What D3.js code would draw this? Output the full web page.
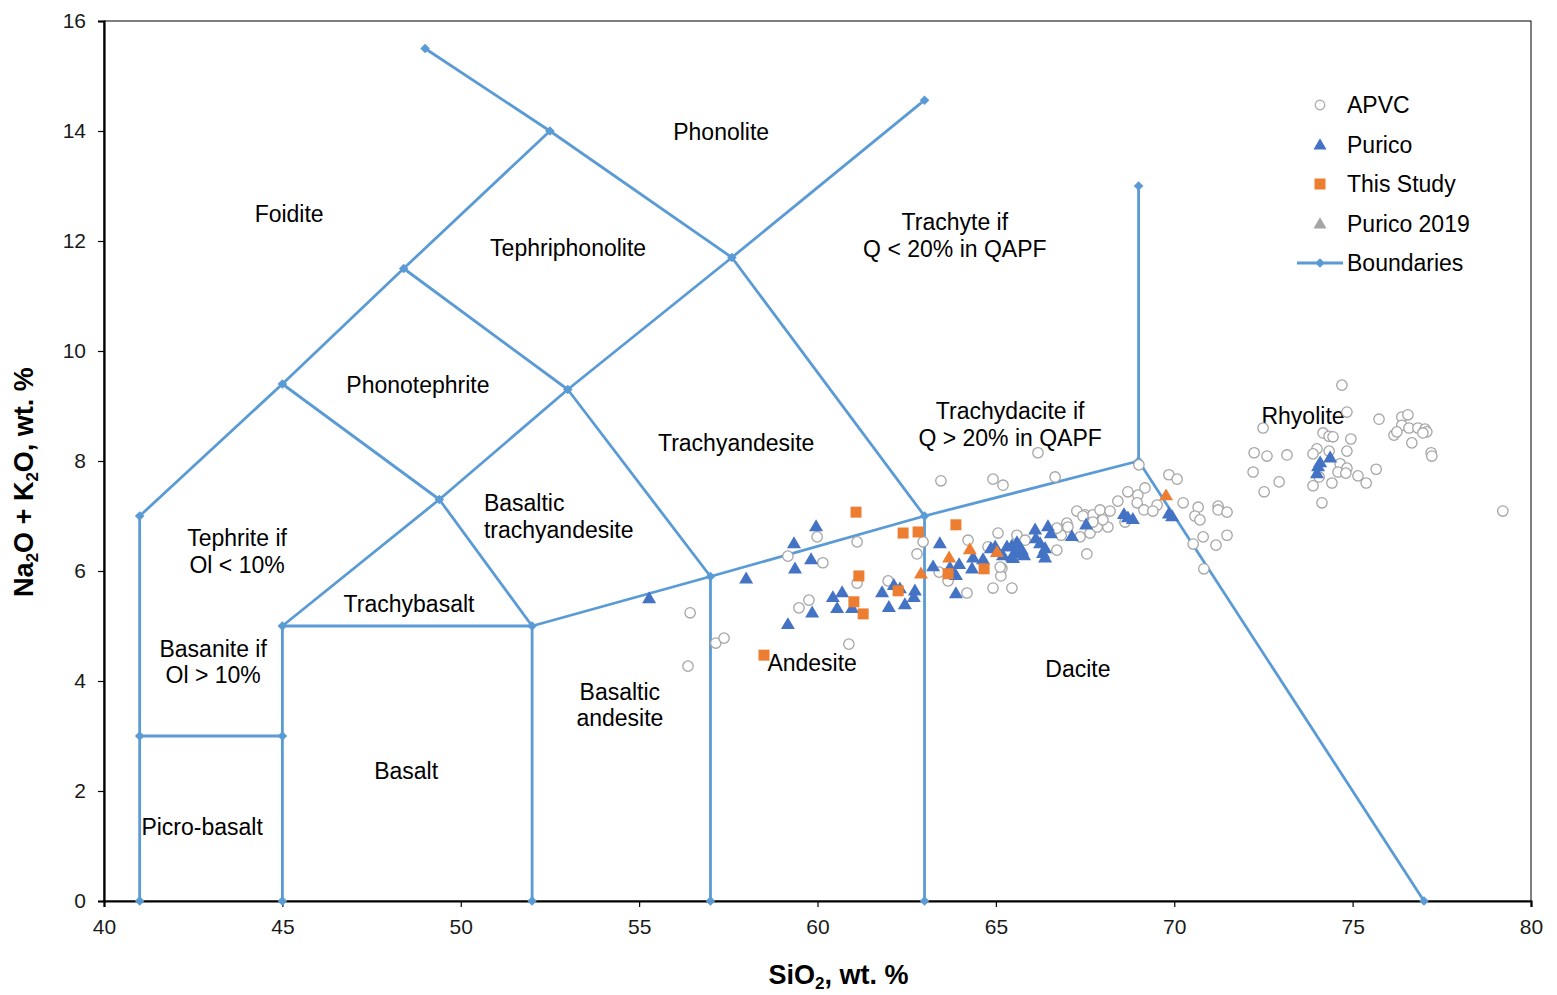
<!DOCTYPE html>
<html><head><meta charset="utf-8">
<script src="https://cdn.jsdelivr.net/npm/d3@7"></script>
<style>
html,body{margin:0;padding:0;background:#fff;}
svg{display:block;font-family:"Liberation Sans",Arial,sans-serif;}
</style></head>
<body><svg id="chart" width="1557" height="995"></svg>
<script>
// ---------- DATA ----------
const xTicks = [40,45,50,55,60,65,70,75,80];
const yTicks = [0,2,4,6,8,10,12,14,16];

// Boundary polylines [SiO2, Na2O+K2O]
const boundaries = [
  [[41,0],[41,3],[41,7]],
  [[41,3],[45,3]],
  [[45,0],[45,3],[45,5]],
  [[45,5],[52,5]],
  [[41,7],[45,9.4],[48.4,11.5],[52.5,14]],
  [[49,15.5],[52.5,14],[57.6,11.7],[63,7]],
  [[45,9.4],[49.4,7.3],[52,5],[52,0]],
  [[48.4,11.5],[53,9.3],[57,5.9],[57,0]],
  [[45,5],[49.4,7.3],[53,9.3],[57.6,11.7],[63,14.56]],
  [[52,5],[57,5.9],[63,7],[69,8],[77,0]],
  [[69,8],[69,13]],
  [[63,7],[63,0]]
];

const apvcX = [56.43,56.37,57.15,57.38,59.17,59.99,60.15,59.76,59.48,60.88,61.11,61.11,61.98,62.96,62.79,63.41,63.66,
 63.46,64.92,65.20,66.66,66.18,69.01,65.06,64.22,65.59,65.17,65.14,64.92,65.45,64.19,66.71,67.55,67.27,67.50,67.72,
 66.99,67.64,67.36,67.92,68.20,65.82,64.78,65.12,69.85,70.08,70.25,70.53,69.18,68.70,68.42,68.98,68.96,69.15,69.52,
 69.40,67.44,67.84,68.14,66.83,67.02,66.71,68.00,68.62,67.72,70.67,70.58,70.72,71.23,71.23,71.48,70.81,71.17,71.48,
 70.83,74.70,74.84,72.49,75.74,74.17,74.34,74.45,74.95,72.24,72.60,73.16,74.00,73.89,74.34,74.84,72.21,72.94,72.52,
 73.89,74.14,74.42,74.65,74.59,74.84,74.81,75.15,75.38,75.66,74.06,76.38,76.55,76.16,76.38,76.58,76.83,77.03,77.08,
 76.97,76.66,77.20,77.22,79.21,76.24];
const apvcY = [5.24,4.27,4.69,4.78,6.27,6.62,6.15,5.47,5.33,4.67,6.53,5.78,5.82,6.53,6.31,5.98,5.82,
 7.64,7.67,7.56,7.71,8.15,7.93,6.69,6.56,6.65,6.05,5.91,5.69,5.69,5.60,6.38,6.31,7.09,7.02,7.02,
 6.87,6.69,6.62,7.11,7.09,6.56,6.44,6.07,7.75,7.67,7.24,6.49,7.51,7.44,7.27,7.38,7.24,7.11,7.20,
 7.09,7.00,6.80,6.80,6.65,6.80,6.78,6.93,6.89,6.89,7.16,7.00,6.93,7.18,7.11,7.07,6.62,6.47,6.65,
 6.04,9.38,8.89,8.60,8.76,8.51,8.45,8.44,8.40,8.15,8.09,8.11,8.22,8.13,8.18,8.18,7.80,7.62,7.44,
 7.55,7.24,7.60,7.95,7.80,7.87,7.78,7.73,7.60,7.85,7.71,8.80,8.84,8.47,8.65,8.60,8.60,8.58,8.53,
 8.51,8.33,8.15,8.09,7.09,8.53];

const puricoX = [55.28,58.00,59.34,59.96,59.82,59.37,59.85,59.17,60.43,60.69,60.55,60.97,61.81,62.14,62.00,62.45,
 62.73,62.70,62.31,63.43,63.24,63.88,63.71,63.97,63.88,64.36,64.33,64.64,64.86,64.98,65.20,65.31,65.45,65.59,
 65.54,65.73,65.48,65.70,65.79,66.10,66.12,66.46,66.54,66.24,66.32,66.38,66.38,67.13,67.53,68.59,68.84,68.70,
 69.85,69.94,74.09,74.37,74.00,74.03,65.45];
const puricoY = [5.51,5.87,6.51,6.82,6.22,6.05,5.25,5.04,5.53,5.62,5.33,5.33,5.62,5.75,5.35,5.40,
 5.65,5.53,5.69,6.51,6.09,5.60,6.07,6.13,5.93,6.25,6.05,6.22,6.42,6.45,6.29,6.45,6.47,6.53,
 6.33,6.38,6.24,6.42,6.29,6.76,6.60,6.82,6.69,6.51,6.33,6.25,6.42,6.64,6.85,7.04,6.95,6.98,
 7.05,7.00,7.98,8.07,7.78,7.91,6.27];

const studyX = [61.08,62.40,62.82,63.88,61.16,61.02,61.28,62.26,58.50,63.66,64.67];
const studyY = [7.07,6.69,6.71,6.84,5.91,5.44,5.22,5.64,4.47,5.95,6.04];

const purico2019X = [62.90,63.69,64.27,65.03,69.77];
const purico2019Y = [5.96,6.25,6.40,6.35,7.38];

// Field labels: [text, SiO2, Na2O+K2O, anchor]
const fieldLabels = [
  ["Foidite",45.19,12.49,"middle"],
  ["Phonolite",57.30,13.98,"middle"],
  ["Tephriphonolite",53.01,11.87,"middle"],
  ["Trachyte if",63.85,12.35,"middle"],
  ["Q < 20% in QAPF",63.85,11.85,"middle"],
  ["Phonotephrite",48.80,9.38,"middle"],
  ["Trachyandesite",57.72,8.33,"middle"],
  ["Trachydacite if",65.40,8.91,"middle"],
  ["Q > 20% in QAPF",65.40,8.42,"middle"],
  ["Rhyolite",73.61,8.82,"middle"],
  ["Basaltic",50.65,7.24,"start"],
  ["trachyandesite",50.65,6.75,"start"],
  ["Tephrite if",43.73,6.60,"middle"],
  ["Ol < 10%",43.73,6.11,"middle"],
  ["Trachybasalt",48.55,5.40,"middle"],
  ["Basanite if",43.06,4.58,"middle"],
  ["Ol > 10%",43.06,4.11,"middle"],
  ["Andesite",59.85,4.33,"middle"],
  ["Basaltic",54.46,3.80,"middle"],
  ["andesite",54.46,3.33,"middle"],
  ["Dacite",67.30,4.22,"middle"],
  ["Basalt",48.47,2.36,"middle"],
  ["Picro-basalt",42.75,1.35,"middle"]
];

const legendNames = ["APVC","Purico","This Study","Purico 2019","Boundaries"];

// ---------- STYLE ----------
const C_BOUND = "#5B9BD5", C_BLUE = "#4472C4", C_ORANGE = "#ED7D31", C_GREY = "#A5A5A5";
const M = {left:104, top:21, right:26, bottom:94};
const W = 1557, H = 995;

const svg = d3.select("#chart");
const x = d3.scaleLinear().domain([40,80]).range([M.left, W-M.right]);
const y = d3.scaleLinear().domain([0,16]).range([H-M.bottom, M.top]);

// frame
svg.append("rect").attr("x",x(40)).attr("y",y(16)).attr("width",x(80)-x(40)).attr("height",y(0)-y(16))
  .attr("fill","none").attr("stroke","#000").attr("stroke-width",1);

// axes
const xAxis = d3.axisBottom(x).tickValues(xTicks).tickSize(6).tickPadding(12).tickFormat(d3.format("d"));
const yAxis = d3.axisLeft(y).tickValues(yTicks).tickSize(6).tickPadding(12).tickFormat(d3.format("d"));
const gx = svg.append("g").attr("transform",`translate(0,${y(0)})`).call(xAxis);
const gy = svg.append("g").attr("transform",`translate(${x(40)},0)`).call(yAxis);
[gx,gy].forEach(g=>{
  g.select(".domain").attr("stroke","#000").attr("stroke-width",2.2);
  g.selectAll(".tick line").attr("stroke","#000").attr("stroke-width",1.2);
  g.selectAll(".tick text").attr("font-size",21).attr("fill","#1a1a1a")
    .attr("font-family",'"Liberation Sans",Arial,sans-serif');
});

// axis titles
const xt = svg.append("text").attr("x",x(60)+21).attr("y",984)
  .attr("text-anchor","middle").attr("font-size",27).attr("font-weight","bold").attr("fill","#000");
xt.append("tspan").text("SiO");
xt.append("tspan").text("2").attr("font-size",17).attr("dy",5);
xt.append("tspan").text(", wt. %").attr("dy",-5);

const yt = svg.append("text").attr("transform",`translate(33,${(y(0)+y(16))/2 + 21}) rotate(-90)`)
  .attr("text-anchor","middle").attr("font-size",27).attr("font-weight","bold").attr("fill","#000");
yt.append("tspan").text("Na");
yt.append("tspan").text("2").attr("font-size",17).attr("dy",5);
yt.append("tspan").text("O + K").attr("dy",-5);
yt.append("tspan").text("2").attr("font-size",17).attr("dy",5);
yt.append("tspan").text("O, wt. %").attr("dy",-5);

// boundaries
const line = d3.line().x(d=>x(d[0])).y(d=>y(d[1]));
const gB = svg.append("g");
gB.selectAll("path.b").data(boundaries).join("path").attr("class","b")
  .attr("d",line).attr("fill","none").attr("stroke",C_BOUND).attr("stroke-width",2.8).attr("stroke-linejoin","round");
const diamond = s => `M0,${-s}L${s},0L0,${s}L${-s},0Z`;
const verts = [];
const seen = new Set();
boundaries.forEach(pl=>pl.forEach(p=>{const k=p.join(","); if(!seen.has(k)){seen.add(k);verts.push(p);}}));
gB.selectAll("path.v").data(verts).join("path").attr("class","v")
  .attr("d",diamond(4.8)).attr("transform",d=>`translate(${x(d[0])},${y(d[1])})`).attr("fill",C_BOUND);

// field labels
svg.append("g").selectAll("text").data(fieldLabels).join("text")
  .attr("x",d=>x(d[1])).attr("y",d=>y(d[2])).attr("dy","0.35em").attr("text-anchor",d=>d[3])
  .attr("font-size",23).attr("fill","#000").text(d=>d[0]);

// series
const tri = s => `M0,${-s*0.95}L${s},${s*0.75}L${-s},${s*0.75}Z`;
const zip = (a,b)=>a.map((v,i)=>[v,b[i]]);

svg.append("g").selectAll("circle").data(zip(apvcX,apvcY)).join("circle")
  .attr("cx",d=>x(d[0])).attr("cy",d=>y(d[1])).attr("r",5.2)
  .attr("fill","#fff").attr("stroke",C_GREY).attr("stroke-width",1.3);

svg.append("g").selectAll("path").data(zip(puricoX,puricoY)).join("path")
  .attr("d",tri(7)).attr("transform",d=>`translate(${x(d[0])},${y(d[1])})`).attr("fill",C_BLUE);

svg.append("g").selectAll("rect").data(zip(studyX,studyY)).join("rect")
  .attr("x",d=>x(d[0])-5.5).attr("y",d=>y(d[1])-5.5).attr("width",11).attr("height",11).attr("fill",C_ORANGE);

svg.append("g").selectAll("path").data(zip(purico2019X,purico2019Y)).join("path")
  .attr("d",tri(7)).attr("transform",d=>`translate(${x(d[0])},${y(d[1])})`).attr("fill",C_ORANGE);

// legend
const lg = svg.append("g").attr("transform","translate(1320,105)");
const step = 39.5;
legendNames.forEach((name,i)=>{
  const g = lg.append("g").attr("transform",`translate(0,${i*step})`);
  if(i===0) g.append("circle").attr("r",4.8).attr("fill","#fff").attr("stroke",C_GREY).attr("stroke-width",1.2);
  if(i===1) g.append("path").attr("d",tri(6.5)).attr("fill",C_BLUE);
  if(i===2) g.append("rect").attr("x",-5.5).attr("y",-5.5).attr("width",11).attr("height",11).attr("fill",C_ORANGE);
  if(i===3) g.append("path").attr("d",tri(6.5)).attr("fill",C_GREY);
  if(i===4){
    g.append("line").attr("x1",-23).attr("x2",23).attr("stroke",C_BOUND).attr("stroke-width",2.8);
    g.append("path").attr("d",diamond(4.8)).attr("fill",C_BOUND);
  }
  g.append("text").attr("x",27).attr("dy","0.35em").attr("font-size",23).attr("fill","#000").text(name);
});
</script></body></html>
